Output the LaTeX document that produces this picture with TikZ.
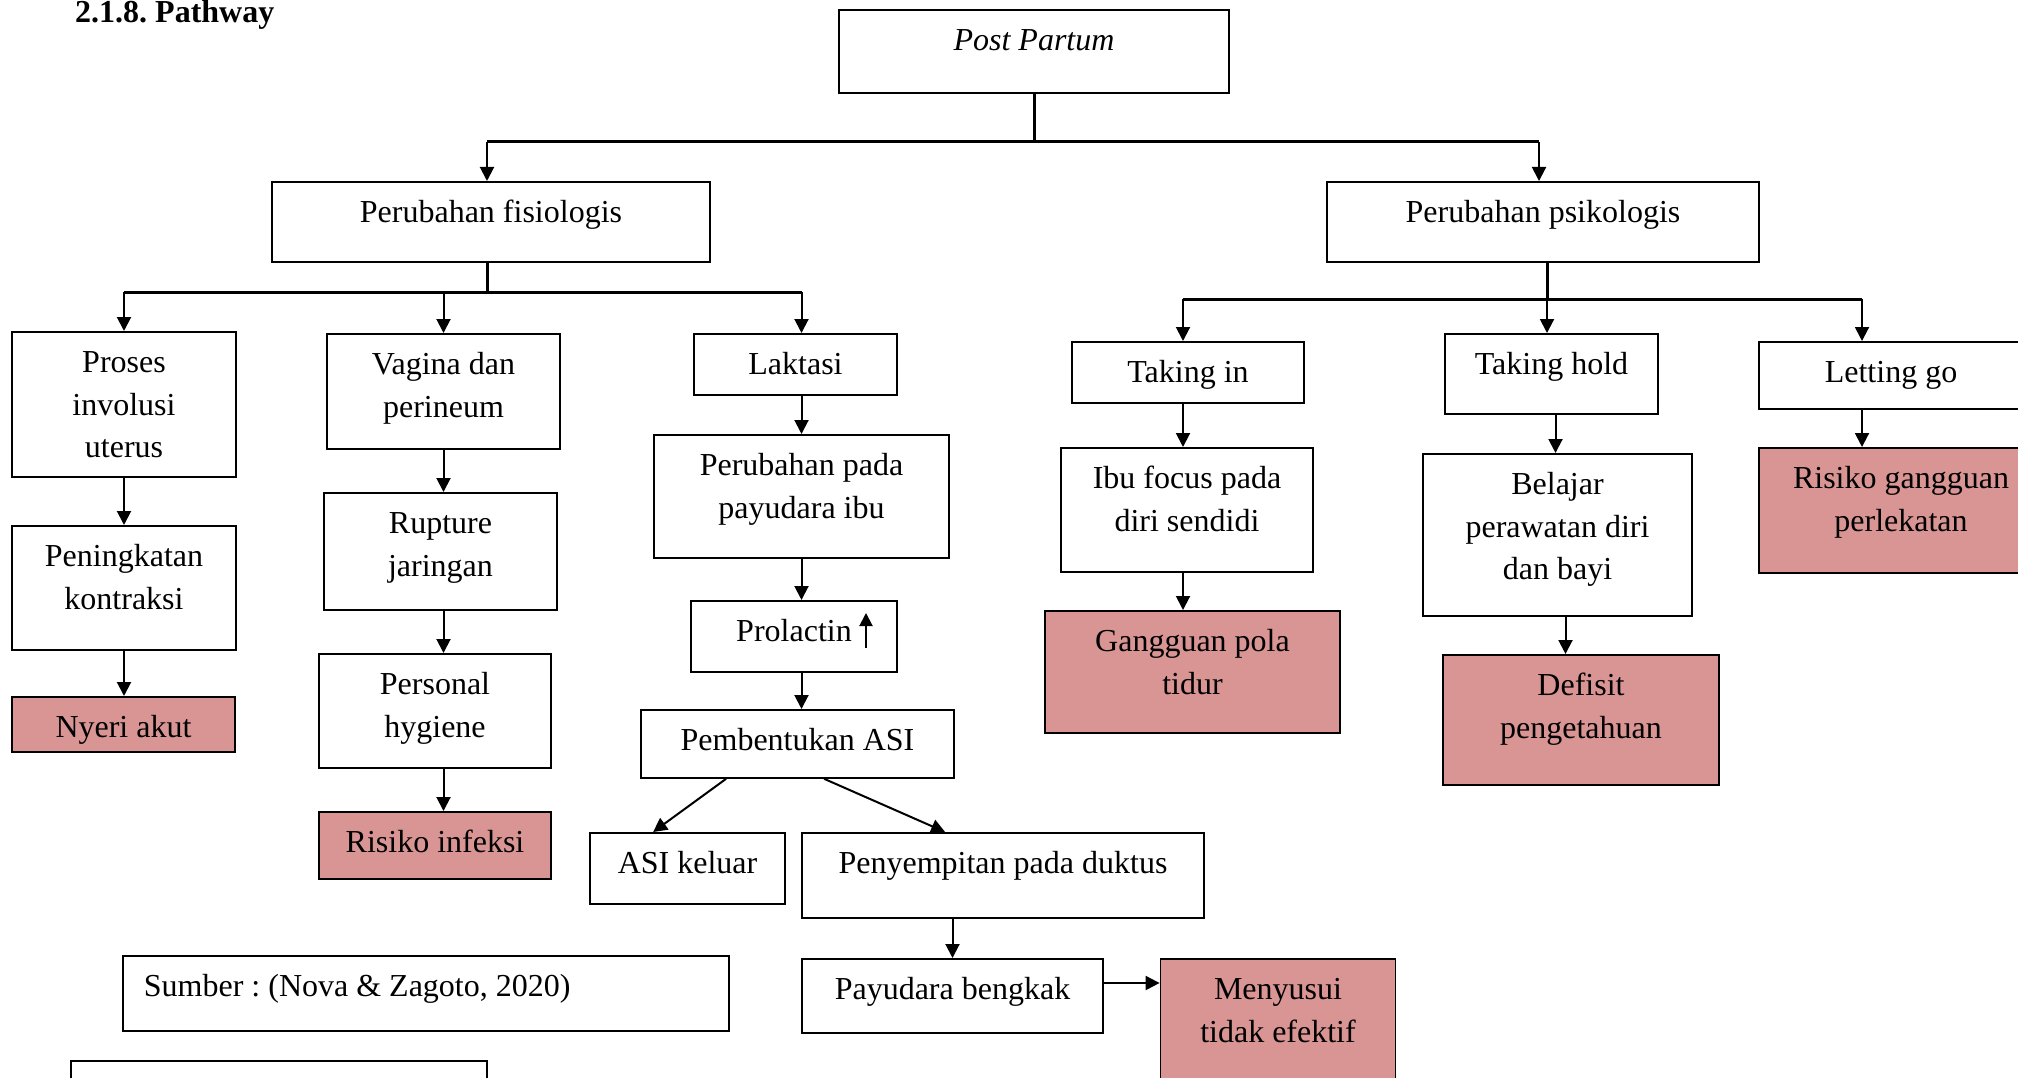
\documentclass[tikz,border=0pt]{standalone}
\usepackage{fontspec}
\setmainfont{Liberation Serif}
\usetikzlibrary{arrows.meta}
\frenchspacing
\definecolor{merahmuda}{HTML}{D99594}
\newcommand{\isi}[1]{\begin{tabular}[t]{@{}c@{}}#1\end{tabular}}
\tikzset{kotak/.style={draw,line width=1.8pt,rectangle,anchor=north,inner xsep=0pt,inner ysep=11pt,text height=30pt,font=\fontsize{32}{42.5}\selectfont},
    kotakmerah/.style={kotak,fill=merahmuda},
    panah/.style={line width=2pt,-{Triangle[length=14pt,width=14pt]}},
    jalur/.style={line width=3pt}
}
\begin{document}
\begin{tikzpicture}[x=1pt,y=-1pt]

\useasboundingbox (0,0) rectangle (2018,1078);

\node (judul) [anchor=base west,inner sep=0pt,font=\fontsize{32}{42.5}\selectfont\bfseries] at (75,23) {2.1.8. Pathway};

\node (postpartum) [kotak,minimum width=390pt,text depth=31pt] at (1034,9) {\isi{\itshape Post Partum}};
\node (fisiologis) [kotak,minimum width=438pt,text depth=28pt] at (491,181) {\isi{Perubahan fisiologis}};
\node (psikologis) [kotak,minimum width=432pt,text depth=28pt] at (1543,181) {\isi{Perubahan psikologis}};

\node (involusi) [kotak,minimum width=224pt,text depth=93pt] at (124,331) {\isi{Proses\\ involusi\\ uterus}};
\node (kontraksi) [kotak,minimum width=224pt,text depth=72pt] at (124,525) {\isi{Peningkatan\\ kontraksi}};
\node (nyeri) [kotakmerah,minimum width=223pt,text depth=3pt] at (123.5,696) {\isi{Nyeri akut}};

\node (vagina) [kotak,minimum width=233pt,text depth=63pt] at (443.5,333) {\isi{Vagina dan\\ perineum}};
\node (rupture) [kotak,minimum width=233pt,text depth=65pt] at (440.5,492) {\isi{Rupture\\ jaringan}};
\node (hygiene) [kotak,minimum width=232pt,text depth=62pt] at (435,653) {\isi{Personal\\ hygiene}};
\node (infeksi) [kotakmerah,minimum width=232pt,text depth=15pt] at (435,811) {\isi{Risiko infeksi}};

\node (laktasi) [kotak,minimum width=203pt,text depth=9pt] at (795.5,333) {\isi{Laktasi}};
\node (payudara) [kotak,minimum width=295pt,text depth=71pt] at (801.5,434) {\isi{Perubahan pada\\ payudara ibu}};
\node (prolactin) [kotak,minimum width=206pt,text depth=19pt] at (794,600) {\isi{Prolactin}};
\node (asi) [kotak,minimum width=313pt,text depth=16pt] at (797.5,709) {\isi{Pembentukan ASI}};
\node (asikeluar) [kotak,minimum width=195pt,text depth=19pt] at (687.5,832) {\isi{ASI keluar}};
\node (duktus) [kotak,minimum width=402pt,text depth=33pt] at (1003,832) {\isi{Penyempitan pada duktus}};
\node (bengkak) [kotak,minimum width=301pt,text depth=22pt] at (952.5,958) {\isi{Payudara bengkak}};
\node (menyusui) [kotakmerah,minimum width=235pt,text depth=90pt] at (1278,958) {\isi{Menyusui\\ tidak efektif}};

\node (sumber) [kotak,anchor=north west,inner xsep=21pt,text depth=23pt] at (122,955) {\makebox[564pt][l]{Sumber : (Nova \& Zagoto, 2020)}};
\node (catatan) [kotak,minimum width=416pt,text depth=28pt] at (279,1060) {};

\node (takingin) [kotak,minimum width=232pt,text depth=9pt] at (1188,341) {\isi{Taking in}};
\node (fokus) [kotak,minimum width=252pt,text depth=72pt] at (1187,447) {\isi{Ibu focus pada\\ diri sendidi}};
\node (tidur) [kotakmerah,minimum width=295pt,text depth=70pt] at (1192.5,610) {\isi{Gangguan pola\\ tidur}};

\node (takinghold) [kotak,minimum width=213pt,text depth=28pt] at (1551.5,333) {\isi{Taking hold}};
\node (belajar) [kotak,minimum width=269pt,text depth=110pt] at (1557.5,453) {\isi{Belajar\\ perawatan diri\\ dan bayi}};
\node (defisit) [kotakmerah,minimum width=276pt,text depth=78pt] at (1581,654) {\isi{Defisit\\ pengetahuan}};

\node (lettinggo) [kotak,minimum width=264pt,text depth=15pt] at (1891,341) {\isi{Letting go}};
\node (perlekatan) [kotakmerah,minimum width=284pt,text depth=73pt] at (1901,447) {\isi{Risiko gangguan\\ perlekatan}};

\coordinate (bpost) at (1034,142);
\coordinate (bpost 1) at (487,142);
\coordinate (bpost 2) at (1539,142);
\draw [jalur] (postpartum.south) -- (bpost);
\draw [jalur] (bpost 1) -- (bpost 2);
\draw [panah] (bpost 1) -- (bpost 1 |- fisiologis.north);
\draw [panah] (bpost 2) -- (bpost 2 |- psikologis.north);

\coordinate (bfis) at (487,292);
\draw [jalur] (bfis |- fisiologis.south) -- (bfis);
\draw [jalur] (involusi.north |- bfis) -- (payudara.north |- bfis);
\draw [panah] (involusi.north |- bfis) -- (involusi.north);
\draw [panah] (vagina.north |- bfis) -- (vagina.north);
\draw [panah] (payudara.north |- bfis) -- (payudara.north |- laktasi.north);

\draw [panah] (involusi.south) -- (involusi.south |- kontraksi.north);
\draw [panah] (involusi.south |- kontraksi.south) -- (involusi.south |- nyeri.north);

\draw [panah] (vagina.south) -- (vagina.south |- rupture.north);
\draw [panah] (vagina.south |- rupture.south) -- (vagina.south |- hygiene.north);
\draw [panah] (vagina.south |- hygiene.south) -- (vagina.south |- infeksi.north);

\draw [panah] (payudara.north |- laktasi.south) -- (payudara.north);
\draw [panah] (payudara.south) -- (payudara.south |- prolactin.north);
\draw [panah] (payudara.south |- prolactin.south) -- (payudara.south |- asi.north);
\draw [panah] ([xshift=86pt]asi.south west) -- ([xshift=64pt]asikeluar.north west);
\draw [panah] ([xshift=184pt]asi.south west) -- ([xshift=144pt]duktus.north west);
\draw [panah] (bengkak.north |- duktus.south) -- (bengkak.north);
\draw [panah] ([yshift=-25pt]bengkak.north east) -- ([yshift=-25pt]menyusui.north west);
\draw [line width=2pt,-{Triangle[length=13pt,width=13pt]}] ([xshift=72pt,yshift=-48pt]prolactin.north) -- ([xshift=72pt,yshift=-13pt]prolactin.north);

\coordinate (bpsi 1) at (1183,299);
\coordinate (bpsi 2) at (1547,299);
\coordinate (bpsi 3) at (1862,299);
\draw [jalur] (bpsi 2 |- psikologis.south) -- (bpsi 2);
\draw [jalur] (bpsi 1) -- (bpsi 3);
\draw [panah] (bpsi 1) -- (bpsi 1 |- takingin.north);
\draw [panah] (bpsi 2) -- (bpsi 2 |- takinghold.north);
\draw [panah] (bpsi 3) -- (bpsi 3 |- lettinggo.north);

\draw [panah] (bpsi 1 |- takingin.south) -- (bpsi 1 |- fokus.north);
\draw [panah] (bpsi 1 |- fokus.south) -- (bpsi 1 |- tidur.north);
\draw [panah] ([xshift=4pt]takinghold.south) -- ([xshift=4pt]takinghold.south |- belajar.north);
\draw [panah] ([xshift=8pt]belajar.south) -- ([xshift=8pt]belajar.south |- defisit.north);
\draw [panah] (bpsi 3 |- lettinggo.south) -- (bpsi 3 |- perlekatan.north);

\end{tikzpicture}
\end{document}
